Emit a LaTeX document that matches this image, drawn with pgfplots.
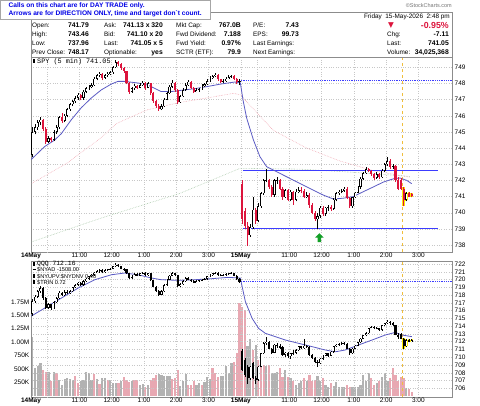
\documentclass[border=0pt]{standalone}
\usepackage{pgfplots}
\pgfplotsset{compat=1.18}
\usepackage{pgfplotstable}
\usepackage{fontspec}
\setmainfont{Liberation Sans}
\setmonofont{Liberation Mono}
\newfontfamily\dejavu{DejaVu Sans}
\definecolor{spyred}{RGB}{220,20,60}
\definecolor{volgray}{RGB}{178,178,178}
\definecolor{volpink}{RGB}{232,168,178}
\definecolor{mablue}{RGB}{90,90,195}
\definecolor{hlblue}{RGB}{60,60,255}
\definecolor{pinkma}{RGB}{240,170,180}
\definecolor{greenma}{RGB}{170,200,170}
\definecolor{hlyellow}{RGB}{255,235,0}
\definecolor{dashyellow}{RGB}{240,190,60}
\definecolor{arrowgreen}{RGB}{20,160,40}
\definecolor{infoblue}{RGB}{0,0,230}

\pgfdeclareplotmark{uparrow}{%
  \pgfpathmoveto{\pgfqpoint{0pt}{4.6pt}}%
  \pgfpathlineto{\pgfqpoint{4.2pt}{0.2pt}}%
  \pgfpathlineto{\pgfqpoint{1.8pt}{0.2pt}}%
  \pgfpathlineto{\pgfqpoint{1.8pt}{-4.4pt}}%
  \pgfpathlineto{\pgfqpoint{-1.8pt}{-4.4pt}}%
  \pgfpathlineto{\pgfqpoint{-1.8pt}{0.2pt}}%
  \pgfpathlineto{\pgfqpoint{-4.2pt}{0.2pt}}%
  \pgfpathclose\pgfusepathqfill}

% SPY 5-min bars: x = bar index (0..77 day 1, 78.. day 2) + 0.5
\pgfplotstableread{
x o h l c r
0.5 743.60 745.30 743.45 745.00 0
1.5 745.00 745.50 744.85 745.30 0
2.5 745.30 745.75 745.15 745.60 0
3.5 745.60 745.90 745.40 745.75 0
4.5 745.75 745.80 745.05 745.20 1
5.5 745.20 745.30 744.25 744.40 1
6.5 744.40 744.75 744.30 744.60 0
7.5 744.60 744.70 744.35 744.50 1
8.5 744.50 745.10 744.45 745.00 0
9.5 745.00 745.40 744.90 745.30 0
10.5 745.30 746.00 745.20 745.90 0
11.5 745.90 746.20 745.55 745.70 1
12.5 745.70 746.10 745.60 746.00 0
13.5 746.00 746.50 745.90 746.40 0
14.5 746.40 746.80 746.30 746.70 0
15.5 746.70 747.00 746.60 746.90 0
16.5 746.90 747.20 746.80 747.10 0
17.5 747.10 747.40 747.00 747.30 0
18.5 747.30 747.35 746.95 747.10 1
19.5 747.10 747.60 747.00 747.50 0
20.5 747.50 747.80 747.40 747.70 0
21.5 747.70 747.90 747.60 747.80 0
22.5 747.80 748.00 747.70 747.90 0
23.5 747.90 748.40 747.85 748.30 0
24.5 748.30 748.60 748.20 748.50 0
25.5 748.50 748.70 748.40 748.60 0
26.5 748.60 748.65 748.20 748.35 1
27.5 748.35 748.60 748.30 748.50 0
28.5 748.50 748.70 748.40 748.60 0
29.5 748.60 748.80 748.50 748.70 0
30.5 748.70 749.10 748.60 749.00 0
31.5 749.00 749.45 748.95 749.30 0
32.5 749.30 749.40 749.10 749.20 1
33.5 749.20 749.25 748.85 748.95 1
34.5 748.95 749.00 748.65 748.75 1
35.5 748.75 748.80 747.95 748.05 1
36.5 748.05 748.10 747.35 747.50 1
37.5 747.50 747.80 747.40 747.70 0
38.5 747.70 747.95 747.60 747.85 0
39.5 747.85 747.90 747.65 747.75 1
40.5 747.75 748.00 747.70 747.90 0
41.5 747.90 748.15 747.85 748.05 0
42.5 748.05 748.10 747.60 747.75 1
43.5 747.75 748.10 747.70 748.00 0
44.5 748.00 748.05 747.30 747.40 1
45.5 747.40 747.45 746.80 746.90 1
46.5 746.90 747.00 746.50 746.60 1
47.5 746.60 746.70 746.30 746.40 1
48.5 746.40 746.70 746.35 746.60 0
49.5 746.60 747.10 746.55 747.00 0
50.5 747.00 747.50 746.95 747.40 0
51.5 747.40 747.90 747.35 747.80 0
52.5 747.80 748.20 747.75 748.05 0
53.5 748.05 748.10 747.50 747.60 1
54.5 747.60 747.65 746.70 746.85 1
55.5 746.85 747.30 746.80 747.20 0
56.5 747.20 747.70 747.15 747.60 0
57.5 747.60 748.00 747.55 747.90 0
58.5 747.90 748.20 747.85 748.10 0
59.5 748.10 748.15 747.65 747.75 1
60.5 747.75 747.80 747.40 747.50 1
61.5 747.50 747.70 747.45 747.60 0
62.5 747.60 747.75 747.50 747.65 0
63.5 747.65 747.95 747.60 747.85 0
64.5 747.85 748.05 747.80 747.95 0
65.5 747.95 748.25 747.90 748.15 0
66.5 748.15 748.45 748.10 748.35 0
67.5 748.35 748.55 748.30 748.45 0
68.5 748.45 748.65 748.40 748.55 0
69.5 748.55 748.60 748.15 748.25 1
70.5 748.25 748.30 748.00 748.10 1
71.5 748.10 748.25 748.05 748.15 0
72.5 748.15 748.40 748.10 748.30 0
73.5 748.30 748.50 748.25 748.40 0
74.5 748.40 748.55 748.35 748.45 0
75.5 748.45 748.50 748.20 748.30 1
76.5 748.30 748.35 747.95 748.10 1
77.5 748.10 748.30 747.90 748.17 0
78.5 741.79 742.00 739.30 739.60 1
79.5 740.10 740.30 739.00 739.20 1
80.5 739.20 739.40 737.96 738.60 1
81.5 738.60 739.30 738.50 739.10 0
82.5 739.10 741.00 739.00 740.20 0
83.5 740.20 740.30 739.30 739.50 1
84.5 739.50 740.60 739.40 740.40 0
85.5 740.40 741.30 740.30 741.20 0
86.5 741.20 742.10 741.10 742.00 0
87.5 742.00 742.70 741.90 742.05 0
88.5 742.05 742.10 741.50 741.60 1
89.5 741.60 741.70 741.00 741.10 1
90.5 741.10 742.10 741.00 742.00 0
91.5 742.00 742.20 741.80 742.05 0
92.5 742.05 742.10 741.40 741.50 1
93.5 741.50 741.60 740.80 740.95 1
94.5 740.95 741.50 740.90 741.40 0
95.5 741.40 741.50 740.70 740.80 1
96.5 740.80 741.40 740.70 741.30 0
97.5 741.30 741.35 740.50 740.80 1
98.5 740.80 741.50 740.70 741.30 0
99.5 741.30 741.60 741.20 741.40 0
100.5 741.40 741.60 741.20 741.35 1
101.5 741.35 741.45 740.90 741.00 1
102.5 741.00 741.30 740.90 741.10 0
103.5 741.10 741.20 740.30 740.50 1
104.5 740.50 740.60 739.90 740.00 1
105.5 740.00 740.10 739.50 739.60 1
106.5 739.60 740.00 739.00 739.80 0
107.5 739.80 740.40 739.70 740.30 0
108.5 740.30 740.40 739.80 739.95 1
109.5 739.95 740.35 739.80 740.30 0
110.5 740.30 740.45 740.10 740.35 0
111.5 740.35 740.45 740.10 740.25 1
112.5 740.25 740.90 740.20 740.80 0
113.5 740.80 741.30 740.70 741.20 0
114.5 741.20 741.40 741.10 741.30 0
115.5 741.30 741.45 741.20 741.35 0
116.5 741.35 741.60 741.30 741.50 0
117.5 741.50 741.60 740.85 740.90 1
118.5 740.90 741.00 740.30 740.40 1
119.5 740.40 741.00 740.30 740.95 0
120.5 740.95 741.30 740.90 741.25 0
121.5 741.25 741.65 741.20 741.60 0
122.5 741.60 742.20 741.50 742.10 0
123.5 742.10 742.50 742.00 742.45 0
124.5 742.45 742.85 742.40 742.70 0
125.5 742.70 742.80 742.50 742.60 1
126.5 742.60 742.65 742.30 742.40 1
127.5 742.40 742.45 742.00 742.15 1
128.5 742.15 742.50 742.10 742.40 0
129.5 742.40 742.45 742.10 742.20 1
130.5 742.20 742.70 742.15 742.60 0
131.5 742.60 743.10 742.55 743.00 0
132.5 743.00 743.46 742.90 743.20 0
133.5 743.20 743.30 742.70 742.85 1
134.5 742.85 743.00 742.70 742.90 0
135.5 742.90 742.95 741.90 742.00 1
136.5 742.00 742.20 741.40 741.50 1
137.5 742.05 742.15 741.40 741.50 1
138.5 741.50 741.60 740.40 740.80 1
139.5 740.80 741.30 740.70 741.20 0
140.5 741.20 741.30 740.95 741.00 1
141.5 741.15 741.25 740.95 741.05 1
}\spy

% QQQ 5-min bars
\pgfplotstableread{
x o h l c r
0.5 715.60 717.50 715.30 717.20 0
1.5 717.20 718.00 717.00 717.80 0
2.5 717.80 718.60 717.60 718.50 0
3.5 718.50 719.20 718.30 718.90 0
4.5 718.90 719.00 717.40 717.60 1
5.5 717.60 717.70 716.20 716.40 1
6.5 716.40 717.00 716.20 716.80 0
7.5 716.80 716.90 716.10 716.30 1
8.5 716.30 717.20 716.20 717.10 0
9.5 717.10 717.80 717.00 717.60 0
10.5 717.60 718.50 717.50 718.30 0
11.5 718.30 718.40 717.90 718.00 1
12.5 718.00 718.60 717.90 718.40 0
13.5 718.40 718.60 718.10 718.30 1
14.5 718.30 718.70 718.20 718.50 0
15.5 718.50 719.10 718.40 719.00 0
16.5 719.00 719.40 718.90 719.30 0
17.5 719.30 719.70 719.20 719.60 0
18.5 719.60 719.70 719.20 719.30 1
19.5 719.30 719.90 719.20 719.80 0
20.5 719.80 720.20 719.70 720.10 0
21.5 720.10 720.50 720.00 720.40 0
22.5 720.40 720.70 720.30 720.60 0
23.5 720.60 721.00 720.50 720.90 0
24.5 720.90 721.20 720.80 721.10 0
25.5 721.10 721.30 720.90 721.20 0
26.5 721.20 721.30 720.80 720.95 1
27.5 720.95 721.30 720.90 721.20 0
28.5 721.20 721.40 721.10 721.30 0
29.5 721.30 721.50 721.20 721.40 0
30.5 721.40 721.80 721.30 721.70 0
31.5 721.70 722.10 721.60 721.90 0
32.5 721.90 722.00 721.60 721.75 1
33.5 721.75 721.80 721.30 721.40 1
34.5 721.40 721.50 721.10 721.30 1
35.5 721.30 721.35 720.70 720.80 1
36.5 720.80 720.90 720.10 720.20 1
37.5 720.20 720.60 720.10 720.50 0
38.5 720.50 720.80 720.40 720.70 0
39.5 720.70 720.80 720.40 720.50 1
40.5 720.50 720.90 720.40 720.80 0
41.5 720.80 721.00 720.70 720.90 0
42.5 720.90 720.95 720.50 720.60 1
43.5 720.60 720.90 720.50 720.80 0
44.5 720.80 720.85 719.80 719.90 1
45.5 719.90 720.00 719.00 719.10 1
46.5 719.10 719.20 718.40 718.50 1
47.5 718.50 718.60 717.90 718.05 1
48.5 718.05 718.60 717.95 718.50 0
49.5 718.50 719.40 718.40 719.30 0
50.5 719.30 720.10 719.20 720.00 0
51.5 720.00 720.60 719.90 720.50 0
52.5 720.50 721.00 720.40 720.85 0
53.5 720.85 720.90 720.40 720.60 1
54.5 720.60 720.65 719.00 719.20 1
55.5 719.20 719.50 719.10 719.40 0
56.5 719.40 719.90 719.30 719.80 0
57.5 719.80 720.30 719.70 720.20 0
58.5 720.20 720.30 719.90 720.00 1
59.5 720.00 720.10 719.70 719.80 1
60.5 719.80 719.90 719.50 719.60 1
61.5 719.60 719.90 719.50 719.80 0
62.5 719.80 720.00 719.70 719.90 0
63.5 719.90 720.10 719.80 720.00 0
64.5 720.00 720.20 719.90 720.10 0
65.5 720.10 720.50 720.00 720.40 0
66.5 720.40 720.70 720.30 720.60 0
67.5 720.60 720.90 720.50 720.80 0
68.5 720.80 721.00 720.70 720.90 0
69.5 720.90 720.95 720.50 720.60 1
70.5 720.60 720.70 720.40 720.50 1
71.5 720.50 720.70 720.40 720.60 0
72.5 720.60 720.80 720.50 720.70 0
73.5 720.70 720.90 720.60 720.80 0
74.5 720.80 720.95 720.70 720.85 0
75.5 720.85 720.90 720.40 720.50 1
76.5 720.50 720.60 720.00 720.10 1
77.5 720.10 720.20 719.60 719.72 1
78.5 710.80 711.00 708.20 708.40 1
79.5 709.60 709.90 707.50 707.70 1
80.5 708.80 709.00 706.60 707.30 1
81.5 707.30 708.90 707.10 708.80 0
82.5 709.20 709.40 707.20 707.30 1
83.5 707.30 707.60 706.60 707.10 1
84.5 707.10 708.90 707.00 708.80 0
85.5 708.80 710.60 708.70 710.50 0
86.5 710.50 711.90 710.40 711.80 0
87.5 711.80 712.60 711.60 712.00 0
88.5 712.00 712.10 711.00 711.10 1
89.5 711.10 711.20 710.40 710.50 1
90.5 710.60 711.70 710.50 711.60 0
91.5 711.60 711.80 711.20 711.40 1
92.5 711.40 711.70 711.00 711.20 1
93.5 711.30 711.40 710.20 710.30 1
94.5 710.30 710.70 710.00 710.60 0
95.5 710.60 710.70 709.90 710.10 1
96.5 710.10 710.60 709.80 710.50 0
97.5 710.50 710.90 710.30 710.60 0
98.5 710.60 711.00 710.40 710.90 0
99.5 710.90 711.50 710.80 711.40 0
100.5 711.40 711.50 711.00 711.15 1
101.5 711.15 712.30 711.10 711.50 0
102.5 711.50 711.60 711.20 711.35 1
103.5 711.35 711.40 710.20 710.30 1
104.5 710.30 710.40 709.80 709.90 1
105.5 709.90 710.00 709.20 709.40 1
106.5 709.40 709.60 708.80 709.20 1
107.5 709.20 709.90 709.10 709.80 0
108.5 709.80 710.30 709.70 710.20 0
109.5 710.20 710.60 710.10 710.50 0
110.5 710.50 710.60 710.00 710.20 1
111.5 710.20 710.80 710.10 710.70 0
112.5 710.70 711.50 710.60 711.40 0
113.5 711.40 711.70 711.30 711.60 0
114.5 711.60 711.80 711.50 711.70 0
115.5 711.70 711.90 711.60 711.80 0
116.5 711.80 711.90 711.60 711.75 1
117.5 711.75 711.80 711.00 711.10 1
118.5 711.10 711.20 710.30 710.50 1
119.5 710.50 711.20 710.40 711.10 0
120.5 711.10 711.60 711.00 711.50 0
121.5 711.50 712.00 711.40 711.90 0
122.5 711.90 712.50 711.80 712.40 0
123.5 712.40 712.90 712.30 712.80 0
124.5 712.80 713.20 712.70 713.10 0
125.5 713.10 713.80 713.00 713.70 0
126.5 713.70 714.00 713.60 713.90 0
127.5 713.90 714.00 713.60 713.70 1
128.5 713.70 713.90 713.60 713.75 0
129.5 713.75 713.80 713.40 713.50 1
130.5 713.50 714.20 713.40 714.10 0
131.5 714.10 714.40 714.00 714.35 0
132.5 714.35 714.80 714.30 714.60 0
133.5 714.60 714.65 714.20 714.35 1
134.5 714.35 714.50 714.00 714.15 1
135.5 714.15 714.20 712.80 712.90 1
136.5 712.90 713.10 712.40 712.60 1
137.5 713.00 713.10 712.30 712.40 1
138.5 712.40 712.50 711.00 711.40 1
139.5 711.40 712.30 711.30 712.20 0
140.5 712.20 712.40 711.90 712.00 1
141.5 712.00 712.30 711.90 712.16 0
}\qqq

% SPY volume, millions
\pgfplotstableread{
x v r
0.5 1.10 0
1.5 0.52 0
2.5 0.55 0
3.5 0.61 0
4.5 0.48 1
5.5 0.45 1
6.5 0.45 0
7.5 0.27 1
8.5 0.45 0
9.5 0.43 1
10.5 0.30 0
11.5 0.20 0
12.5 0.31 0
13.5 0.33 0
14.5 0.31 0
15.5 0.30 0
16.5 0.37 1
17.5 0.24 1
18.5 0.27 0
19.5 0.29 0
20.5 0.45 0
21.5 0.42 0
22.5 0.30 0
23.5 0.41 1
24.5 0.31 0
25.5 0.22 1
26.5 0.33 0
27.5 0.33 0
28.5 0.30 1
29.5 0.30 0
30.5 0.24 0
31.5 0.24 0
32.5 0.24 1
33.5 0.27 0
34.5 0.36 1
35.5 0.29 1
36.5 0.25 1
37.5 0.27 0
38.5 0.29 1
39.5 0.29 1
40.5 0.20 0
41.5 0.22 0
42.5 0.17 1
43.5 0.20 0
44.5 0.30 1
45.5 0.33 1
46.5 0.39 1
47.5 0.41 0
48.5 0.39 0
49.5 0.37 0
50.5 0.37 0
51.5 0.37 0
52.5 0.31 1
53.5 0.33 1
54.5 0.48 1
55.5 0.19 0
56.5 0.27 0
57.5 0.41 0
58.5 0.20 1
59.5 0.20 1
60.5 0.27 1
61.5 0.20 0
62.5 0.24 0
63.5 0.20 1
64.5 0.25 0
65.5 0.35 0
66.5 0.31 0
67.5 0.52 1
68.5 0.42 1
69.5 0.36 1
70.5 0.37 0
71.5 0.37 0
72.5 0.55 0
73.5 0.42 0
74.5 0.61 0
75.5 0.64 1
76.5 0.80 1
77.5 1.72 1
78.5 1.66 1
79.5 1.60 1
80.5 0.92 0
81.5 1.05 0
82.5 0.85 1
83.5 0.95 0
84.5 0.67 1
85.5 0.72 1
86.5 0.58 1
87.5 0.55 0
88.5 0.58 1
89.5 0.42 0
90.5 0.42 0
91.5 0.45 0
92.5 0.52 1
93.5 0.36 1
94.5 0.48 0
95.5 0.36 1
96.5 0.33 0
97.5 0.27 1
98.5 0.20 0
99.5 0.24 0
100.5 0.27 0
101.5 0.33 1
102.5 0.27 0
103.5 0.39 1
104.5 0.27 1
105.5 0.30 1
106.5 0.37 0
107.5 0.27 0
108.5 0.33 1
109.5 0.20 0
110.5 0.17 0
111.5 0.24 1
112.5 0.19 0
113.5 0.25 0
114.5 0.17 0
115.5 0.17 0
116.5 0.17 0
117.5 0.20 1
118.5 0.17 1
119.5 0.16 0
120.5 0.16 0
121.5 0.17 0
122.5 0.20 0
123.5 0.39 0
124.5 0.27 0
125.5 0.42 0
126.5 0.33 1
127.5 0.20 1
128.5 0.24 0
129.5 0.27 1
130.5 0.36 0
131.5 0.42 0
132.5 0.27 0
133.5 0.33 1
134.5 0.52 1
135.5 0.39 1
136.5 0.27 1
137.5 0.36 1
138.5 0.33 1
139.5 0.15 0
140.5 0.12 1
141.5 0.08 1
}\vol

\pgfplotsset{
  base/.style={
    scale only axis, width=421pt, xmin=0, xmax=156.5,
    axis line style={draw=black!45, line width=0.5pt},
    major tick length=0pt,
    xtick={0,18,30,42,54,66,78,96,108,120,132,144},
    xticklabels={\textbf{14May},11:00,12:00,1:00,2:00,3:00,\textbf{15May},11:00,12:00,1:00,2:00,3:00},
    extra x ticks={6,84}, extra x tick labels={},
    tick label style={font=\fontsize{6.5}{7}\selectfont},
    xticklabel style={inner sep=1pt},
    grid style={black!22, dotted, line width=0.45pt},
    /pgf/number format/assume math mode=true,
    yticklabel pos=right,
    yticklabel style={anchor=west, inner sep=1pt, xshift=1.5pt},
  },
  wick/.style={quiver={u=0, v=\thisrow{h}-\thisrow{l}}, line width=0.6pt},
  body/.style={quiver={u=0, v=\thisrow{c}-\thisrow{o}}, line width=2.1pt},
  inner/.style n args={1}{quiver={u=0, v={max(abs(\thisrow{c}-\thisrow{o})-#1,0)}}, line width=0.8pt, white},
  isred/.style={restrict expr to domain={\thisrow{r}}{0.5:1.5}},
  isup/.style={restrict expr to domain={\thisrow{r}}{-0.5:0.5}},
  late/.style={restrict x to domain=138:157},
}

\begin{document}
\begin{tikzpicture}
\path[use as bounding box] (0pt,0pt) rectangle (480pt,-406pt);

% ---------- upper panel: SPY ----------
\begin{axis}[base, at={(31pt,-57pt)}, anchor=north west, height=195pt,
  ymin=737.57, ymax=749.64, ytick={738,739,...,749},
  xmajorgrids, ymajorgrids, extra x tick style={grid=major}]
  \addplot[pinkma, densely dotted, line width=0.6pt] coordinates {
    (0.3,741.82) (13.3,743.06) (25.7,744.6) (31.9,745.53) (43,746.36) (55.4,746.83)
    (65.3,747.1) (75.2,747.39) (78,747.3) (80,746.9) (90.1,745.1) (102.5,744.0)
    (114.9,743.2) (127.3,742.6) (140.9,742.2)};
  \addplot[greenma, densely dotted, line width=0.6pt] coordinates {
    (0.3,738.2) (25.7,739.65) (55.4,741.2) (77.7,742.75) (100,742.7) (120,742.5) (141,742.25)};
  \addplot[dashyellow, dashed, line width=0.7pt] coordinates {(138,737.57) (138,749.64)};
  \addplot[hlblue, densely dotted, line width=0.8pt] coordinates {(78,748.17) (156.5,748.17)};
  \addplot[hlblue, line width=1pt] coordinates {(78.8,742.64) (151.3,742.64)};
  \addplot[hlblue, line width=1pt] coordinates {(78.8,739.03) (151.3,739.03)};
  \addplot[mablue, line width=0.8pt] coordinates {
    (0.1,743.3) (5.1,744.1) (8.8,744.5) (11.3,744.9) (15.0,745.76) (18.7,746.5)
    (22.4,747.1) (26.1,747.6) (29.9,747.97) (32.3,748.13) (34.8,748.13) (39.8,748.03)
    (43.5,747.9) (48.4,747.5) (52.2,747.5) (55.9,747.58) (60.9,747.68) (65.8,747.82)
    (70.7,747.97) (75.7,748.09) (77.8,748.05) (78.9,746.9) (80.2,745.84) (82.7,744.5)
    (85.1,743.47) (87.6,742.85) (90.1,742.64) (93.8,742.33) (97.5,742.02) (101.2,741.71)
    (104.9,741.40) (108.7,741.09) (112.4,740.85) (116.1,740.9) (119.8,741.0) (123.5,741.3)
    (127.3,741.6) (131.0,741.9) (134.7,742.1) (137.2,742.15) (139.7,742.0) (141.5,741.8)};
  % yellow glow on latest bars
  \addplot[late, quiver={u=0, v=\thisrow{h}-\thisrow{l}}, line width=2.2pt, hlyellow] table[x=x, y=l] {\spy};
  \addplot[late, quiver={u=0, v=\thisrow{c}-\thisrow{o}}, line width=3.6pt, hlyellow] table[x=x, y=o] {\spy};
  % candles
  \addplot[isup, wick, black] table[x=x, y=l] {\spy};
  \addplot[isred, wick, spyred] table[x=x, y=l] {\spy};
  \addplot[isup, body, black] table[x=x, y=o] {\spy};
  \addplot[isup, inner={0.07}] table[x=x, y expr={min(\thisrow{o},\thisrow{c})+0.035}] {\spy};
  \addplot[isred, body, spyred] table[x=x, y=o] {\spy};
  % direction arrow
  \addplot[only marks, mark=uparrow, arrowgreen] coordinates {(107.2,738.45)};
\end{axis}

% ---------- lower panel: volume ----------
\begin{axis}[base, at={(31pt,-261pt)}, anchor=north west, height=136pt,
  ymin=-0.02, ymax=2.51, ytick={0.25,0.5,0.75,1,1.25,1.5,1.75},
  yticklabels={250K,500K,750K,1.00M,1.25M,1.50M,1.75M},
  yticklabel pos=left, yticklabel style={anchor=east, xshift=-2pt},
  xticklabels={}, extra x ticks={}, axis line style={draw=none}]
  \addplot[isup, ycomb, volgray, line width=2.2pt] table[x=x, y=v] {\vol};
  \addplot[isred, ycomb, volpink, line width=2.2pt] table[x=x, y=v] {\vol};
\end{axis}

% ---------- lower panel: QQQ ----------
\begin{axis}[base, at={(31pt,-261pt)}, anchor=north west, height=136pt,
  ymin=704.88, ymax=722.39, ytick={706,707,...,722},
  xmajorgrids, ymajorgrids, extra x tick style={grid=major}]
  \addplot[dashyellow, dashed, line width=0.7pt] coordinates {(138,704.88) (138,722.39)};
  \addplot[hlblue, densely dotted, line width=0.8pt] coordinates {(78,719.72) (156.5,719.72)};
  \addplot[mablue, line width=0.8pt] coordinates {
    (0.1,715.3) (5.1,716.33) (11.3,717.62) (17.5,718.9) (23.7,719.98) (29.9,720.62)
    (34.8,720.84) (39.8,720.62) (44.8,720.2) (48.4,719.98) (54.6,719.9) (60.9,719.98)
    (67.0,720.11) (73.2,720.28) (77.8,720.2) (79.7,717.15) (82.2,715.0) (84.6,713.72)
    (87.1,713.08) (90.8,712.65) (94.5,712.22) (99.5,711.79) (104.5,711.36) (109.4,710.93)
    (113.1,710.7) (116.8,710.93) (121.8,711.58) (126.8,712.22) (131.7,712.86) (135.4,713.2)
    (137.9,712.86) (141.6,712.65)};
  \addplot[late, quiver={u=0, v=\thisrow{h}-\thisrow{l}}, line width=2.2pt, hlyellow] table[x=x, y=l] {\qqq};
  \addplot[late, quiver={u=0, v=\thisrow{c}-\thisrow{o}}, line width=3.6pt, hlyellow] table[x=x, y=o] {\qqq};
  \addplot[wick, black] table[x=x, y=l] {\qqq};
  \addplot[body, black] table[x=x, y=o] {\qqq};
  \addplot[isup, inner={0.15}] table[x=x, y expr={min(\thisrow{o},\thisrow{c})+0.075}] {\qqq};
\end{axis}

% ---------- header ----------
\draw[black!45, line width=0.5pt] (31pt,-12pt) rectangle (452pt,-57pt);
\node[anchor=east, inner sep=0pt, text=black!55, font=\fontsize{5.5}{6}\selectfont] at (452pt,-6pt) {\textcopyright StockCharts.com};
\node[anchor=north west, draw=black!35, fill=white, inner sep=1.5pt, minimum width=210pt, minimum height=19pt,
  align=left, text=infoblue, font=\fontsize{6.6}{8.6}\selectfont\bfseries] at (0pt,0pt)
  {Calls on this chart are for DAY TRADE only.\\Arrows are for DIRECTION ONLY, time and target don\textasciigrave t count.};

\begin{scope}[every node/.style={inner sep=0pt, font=\fontsize{6.4}{7}\selectfont}]
  \node[anchor=base east] at (450pt,-18.2pt) {Friday\ \ 15-May-2026\ \ 2:48 pm};
  % column 1
  \node[anchor=base west] at (32pt,-27.4pt) {Open:};
  \node[anchor=base west] at (32pt,-36.4pt) {High:};
  \node[anchor=base west] at (32pt,-45.1pt) {Low:};
  \node[anchor=base west] at (32pt,-54.1pt) {Prev Close:};
  \node[anchor=base east, font=\fontsize{6.8}{7}\selectfont\bfseries] at (89pt,-27.4pt) {741.79};
  \node[anchor=base east, font=\fontsize{6.8}{7}\selectfont\bfseries] at (89pt,-36.4pt) {743.46};
  \node[anchor=base east, font=\fontsize{6.8}{7}\selectfont\bfseries] at (89pt,-45.1pt) {737.96};
  \node[anchor=base east, font=\fontsize{6.8}{7}\selectfont\bfseries] at (89pt,-54.1pt) {748.17};
  % column 2
  \node[anchor=base west] at (104pt,-27.4pt) {Ask:};
  \node[anchor=base west] at (104pt,-36.4pt) {Bid:};
  \node[anchor=base west] at (104pt,-45.1pt) {Last:};
  \node[anchor=base west] at (104pt,-54.1pt) {Optionable:};
  \node[anchor=base east, font=\fontsize{6.8}{7}\selectfont\bfseries] at (163pt,-27.4pt) {741.13 x 320};
  \node[anchor=base east, font=\fontsize{6.8}{7}\selectfont\bfseries] at (163pt,-36.4pt) {741.10 x 20};
  \node[anchor=base east, font=\fontsize{6.8}{7}\selectfont\bfseries] at (163pt,-45.1pt) {741.05 x 5};
  \node[anchor=base east, font=\fontsize{6.8}{7}\selectfont\bfseries] at (163pt,-54.1pt) {yes};
  % column 3
  \node[anchor=base west] at (176pt,-27.4pt) {Mkt Cap:};
  \node[anchor=base west] at (176pt,-36.4pt) {Fwd Dividend:};
  \node[anchor=base west] at (176pt,-45.1pt) {Fwd Yield:};
  \node[anchor=base west] at (176pt,-54.1pt) {SCTR (ETF):};
  \node[anchor=base east, font=\fontsize{6.8}{7}\selectfont\bfseries] at (241pt,-27.4pt) {767.0B};
  \node[anchor=base east, font=\fontsize{6.8}{7}\selectfont\bfseries] at (241pt,-36.4pt) {7.188};
  \node[anchor=base east, font=\fontsize{6.8}{7}\selectfont\bfseries] at (241pt,-45.1pt) {0.97\%};
  \node[anchor=base east, font=\fontsize{6.8}{7}\selectfont\bfseries] at (241pt,-54.1pt) {79.9};
  % column 4
  \node[anchor=base west] at (253pt,-27.4pt) {P/E:};
  \node[anchor=base west] at (253pt,-36.4pt) {EPS:};
  \node[anchor=base west] at (253pt,-45.1pt) {Last Earnings:};
  \node[anchor=base west] at (253pt,-54.1pt) {Next Earnings:};
  \node[anchor=base east, font=\fontsize{6.8}{7}\selectfont\bfseries] at (299pt,-27.4pt) {7.43};
  \node[anchor=base east, font=\fontsize{6.8}{7}\selectfont\bfseries] at (299pt,-36.4pt) {99.73};
  % right column
  \node[anchor=base west, text=spyred, font=\dejavu\fontsize{7.5}{8}\selectfont] at (388pt,-28pt) {▼};
  \node[anchor=base east, text=spyred, font=\fontsize{8.8}{9}\selectfont\bfseries] at (449pt,-28.4pt) {-0.95\%};
  \node[anchor=base west] at (387pt,-36.4pt) {Chg:};
  \node[anchor=base west] at (387pt,-45.1pt) {Last:};
  \node[anchor=base west] at (387pt,-54.1pt) {Volume:};
  \node[anchor=base east, font=\fontsize{6.8}{7}\selectfont\bfseries] at (449pt,-36.4pt) {-7.11};
  \node[anchor=base east, font=\fontsize{6.8}{7}\selectfont\bfseries] at (449pt,-45.1pt) {741.05};
  \node[anchor=base east, font=\fontsize{6.8}{7}\selectfont\bfseries] at (449pt,-54.1pt) {34,025,368};
\end{scope}

% ---------- panel legends ----------
\fill[black] (33pt,-59.5pt) rectangle (35pt,-63.5pt);
\node[anchor=west, inner sep=0pt, font=\ttfamily\fontsize{6.8}{7}\selectfont] at (37pt,-61.5pt) {SPY (5 min) 741.05};
\begin{scope}[every node/.style={anchor=west, inner sep=0pt, font=\fontsize{5.6}{6}\selectfont}]
  \fill[black] (33pt,-262pt) rectangle (35pt,-266pt);
  \node[font=\ttfamily\fontsize{6.4}{7}\selectfont] at (37pt,-264pt) {QQQ 712.16};
  \draw[black, line width=0.8pt] (32.5pt,-269.5pt) -- (36pt,-269.5pt);
  \node at (37pt,-269.8pt) {\$NYAD -1508.00};
  \fill[black] (33pt,-274.5pt) rectangle (35pt,-278pt);
  \node at (37pt,-276.2pt) {\$NYUPV:\$NYDNV 0.40};
  \fill[black] (33pt,-280.5pt) rectangle (35pt,-284pt);
  \node at (37pt,-282.5pt) {\$TRIN 0.72};
\end{scope}
\end{tikzpicture}
\end{document}
